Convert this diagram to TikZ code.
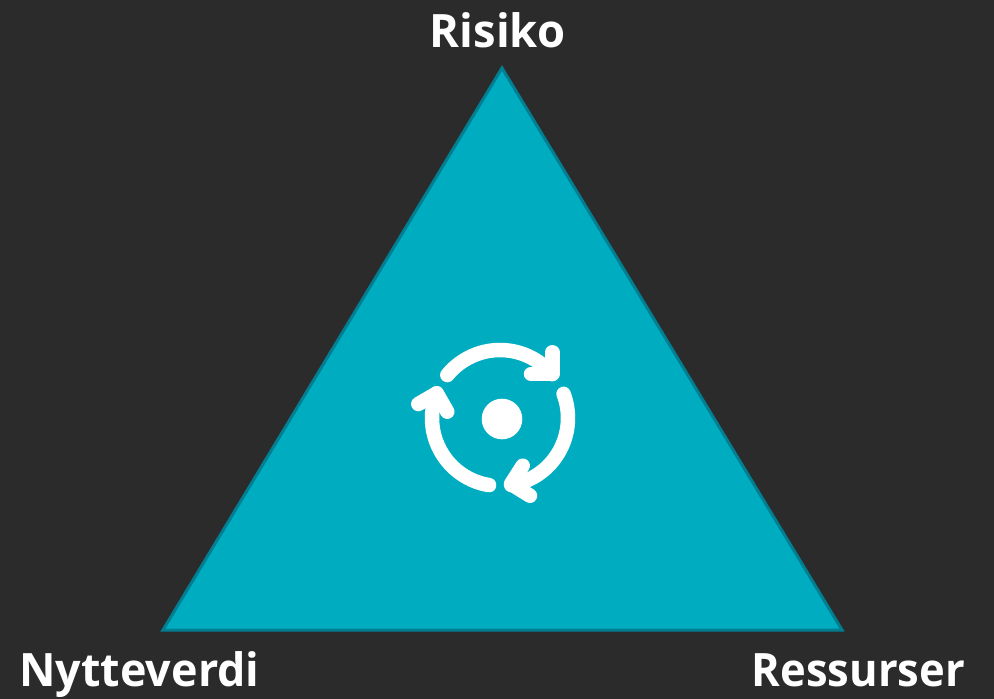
\documentclass[tikz,border=0pt]{standalone}
\usepackage{fontspec}
\setmainfont{Open Sans}
\definecolor{bgdark}{HTML}{2B2B2B}
\definecolor{tealfill}{HTML}{00ADC0}
\definecolor{tealedge}{HTML}{007F93}
\tikzset{
  lbl/.style={text=white,font=\fontsize{46}{50}\selectfont\bfseries,inner sep=0pt,anchor=base},
  icon/.style={draw=white,line width=14.5pt,line cap=round,line join=round},
}
\begin{document}
\begin{tikzpicture}[x=1pt,y=-1pt]
\path[use as bounding box,fill=bgdark] (0,0) rectangle (994,699);
\coordinate (top) at (502,68);
\coordinate (bl) at (163,630);
\coordinate (br) at (842,630);
\draw[fill=tealfill,draw=tealedge,line width=3pt,line join=miter] (top) -- (br) -- (bl) -- cycle;
\node[lbl] (risiko) at (497.5,47) {\scalebox{0.985}[1]{Risiko}};
\node[lbl] (nytte) at (139.5,686) {\scalebox{0.975}[1]{Nytteverdi}};
\node[lbl] (ress) at (858.5,686) {\scalebox{0.946}[1]{Ressurser}};
\coordinate (c) at (502,419);
\fill[white] (c) circle[radius=20.3pt];
\coordinate (ring) at (500,418);
\draw[icon] (ring) ++(219.2:68) arc[start angle=219.2,end angle=319.9,radius=68];
\draw[icon] (552.3,352.3) -- (552.3,374) -- (531,374);
\draw[icon] (ring) ++(-20.8:68) arc[start angle=-20.8,end angle=80.5,radius=68];
\draw[icon] (522.7,465.7) -- (511,484) -- (530,495.7);
\draw[icon] (ring) ++(99.2:68) arc[start angle=99.2,end angle=201.3,radius=68];
\draw[icon] (418.3,404) -- (436.7,393.3) -- (447.3,411.7);
\end{tikzpicture}
\end{document}
